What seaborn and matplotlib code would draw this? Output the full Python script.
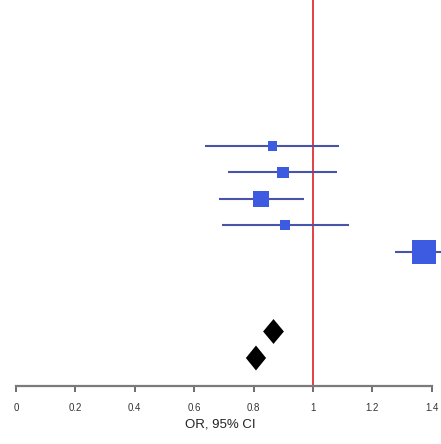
import numpy as np
import pandas as pd
import matplotlib
matplotlib.use("Agg")
import matplotlib.pyplot as plt
import seaborn as sns

# Individual studies: odds ratio, 95% CI and weight (%)
study_row = [0, 1, 2, 3, 4]
study_or = [0.862, 0.899, 0.825, 0.906, 1.374]
study_lo = [0.636, 0.714, 0.684, 0.694, 1.276]
study_hi = [1.088, 1.081, 0.970, 1.121, 1.520]
study_weight = [6.5, 10.0, 19.5, 8.0, 48.0]

# Pooled estimates (diamonds)
pooled_row = [7, 8]
pooled_or = [0.867, 0.808]
pooled_lo = [0.832, 0.774]
pooled_hi = [0.902, 0.842]

tick_values = [0, 0.2, 0.4, 0.6, 0.8, 1, 1.2, 1.4]
tick_labels = ["0", "0.2", "0.4", "0.6", "0.8", "1", "1.2", "1.4"]

sns.set_style("white")
plt.rcParams["font.family"] = ["Liberation Sans", "DejaVu Sans"]

W, H = 441, 444
fig = plt.figure(figsize=(W / 100, H / 100), dpi=100)
ax = fig.add_axes([0, (H - 386) / H, 1, 386 / H])

df = pd.DataFrame({"row": study_row, "or": study_or, "lo": study_lo,
                   "hi": study_hi, "weight": study_weight})

line_col = "#4754a8"
box_col = "#3d5be0"

ax.hlines(df["row"], df["lo"], df["hi"], color=line_col, lw=1.5, zorder=2)
px2 = 0.5184 * 1.25  # marker area per weight unit
sns.scatterplot(data=df, x="or", y="row", size="weight",
                sizes=(min(study_weight) * 10 * px2, max(study_weight) * 10 * px2),
                size_norm=(min(study_weight), max(study_weight)),
                marker="s", color=box_col, linewidth=0, legend=False,
                ax=ax, zorder=3)

# Pooled diamonds
half_h = 0.47
for r, est, lo, hi in zip(pooled_row, pooled_or, pooled_lo, pooled_hi):
    ax.fill([lo, est, hi, est], [r, r - half_h, r, r + half_h],
            color="black", lw=0, zorder=3)

ax.axvline(1, color="#dd2020", lw=1.2, zorder=1)

ax.set_xlim(-16 / 297, 425 / 297)
ax.set_ylim((386 - 146) / 26.5, -146 / 26.5)

for s in ["top", "left", "right"]:
    ax.spines[s].set_visible(False)
ax.spines["bottom"].set_color("#7a7a7a")
ax.spines["bottom"].set_linewidth(1.6)
ax.spines["bottom"].set_bounds(0, 1.4)
ax.spines["bottom"].set_zorder(4)

ax.set_xticks(tick_values)
ax.set_xticklabels(tick_labels)
ax.tick_params(axis="x", direction="out", length=4.5, width=1.2, color="#555555",
               labelsize=7, labelcolor="#333333", pad=8, bottom=True)
ax.set_yticks([])
ax.set_ylabel("")
ax.set_xlabel("OR, 95% CI", fontsize=9.5, color="#222222", labelpad=4)

fig.savefig("out.png", dpi=100)
